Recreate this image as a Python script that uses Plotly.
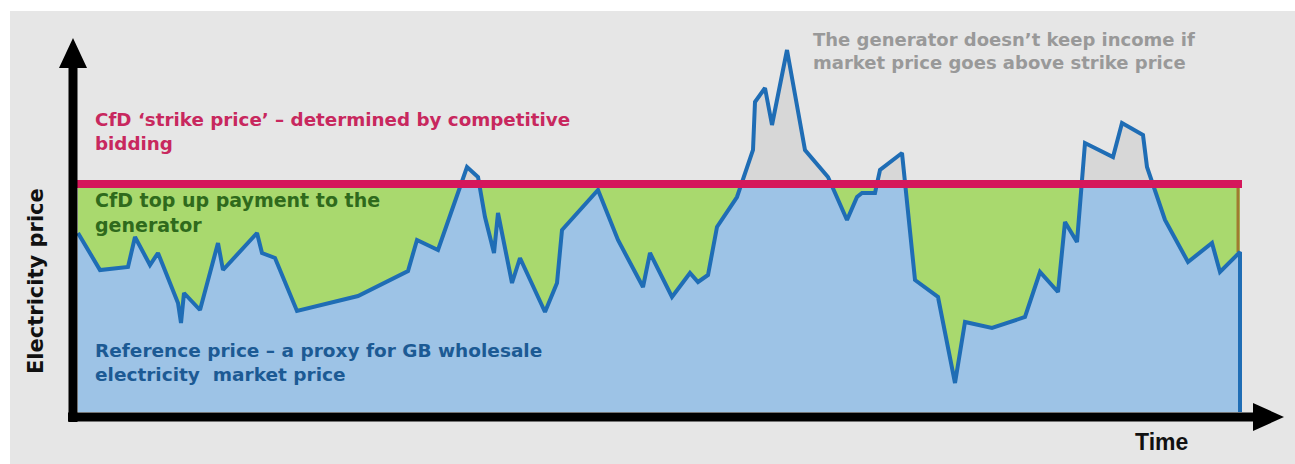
import plotly.graph_objects as go
import numpy as np

# ---- data (arbitrary units) ----
time = [0, 22, 50, 57, 72, 80, 100, 103, 106, 122, 140, 145, 179, 184, 197, 219,
        280, 330, 339, 360, 389, 400, 407, 416, 420, 434, 442, 467, 479, 484, 520,
        540, 565, 572, 594, 612, 620, 630, 639, 659, 675, 677, 687, 694, 709, 727,
        750, 769, 779, 784, 797, 802, 824, 837, 860, 877, 887, 914, 947, 962, 980,
        987, 999, 1007, 1035, 1044, 1065, 1069, 1087, 1110, 1134, 1142, 1162]
price = [179, 142, 145, 175, 147, 159, 109, 89, 119, 102, 169, 142, 179, 159, 154, 101,
         116, 141, 172, 162, 245, 235, 195, 159, 199, 129, 154, 100, 129, 182, 222,
         172, 125, 159, 115, 139, 130, 137, 185, 215, 262, 310, 324, 287, 362, 262,
         235, 192, 215, 219, 219, 242, 259, 132, 115, 29, 90, 84, 95, 140, 120,
         190, 170, 269, 255, 289, 277, 245, 192, 150, 169, 140, 160]
strike_price = 228

texts_strike = ["CfD ‘strike price’ – determined by competitive", "bidding"]
texts_topup = ["CfD top up payment to the", "generator"]
texts_ref = ["Reference price – a proxy for GB wholesale", "electricity  market price"]
texts_keep = ["The generator doesn’t keep income if", "market price goes above strike price"]
x_label = "Time"
y_label = "Electricity price"

# ---- derived: insert strike crossings so the fills split exactly ----
xs, ys = [time[0]], [price[0]]
for i in range(len(time) - 1):
    x0, y0, x1, y1 = time[i], price[i], time[i + 1], price[i + 1]
    if (y0 - strike_price) * (y1 - strike_price) < 0:
        t = (strike_price - y0) / (y1 - y0)
        xs.append(x0 + t * (x1 - x0))
        ys.append(strike_price)
    xs.append(x1)
    ys.append(y1)
xs = np.array(xs, dtype=float)
ys = np.array(ys, dtype=float)
lo = np.minimum(ys, strike_price)
hi = np.maximum(ys, strike_price)

W, H = 1295, 464
OX, OY = 78, 412  # pixel position of data origin


def P(px, py):
    return px - OX, OY - py


fig = go.Figure()
# gray area above strike
fig.add_trace(go.Scatter(x=xs, y=hi, mode="lines", line=dict(width=0),
                         fill="tozeroy", fillcolor="#d7d7d7", hoverinfo="skip"))
# green top-up band
fig.add_trace(go.Scatter(x=[time[0], time[-1]], y=[strike_price, strike_price], mode="lines",
                         line=dict(width=0), fill="tozeroy", fillcolor="#a9d96e", hoverinfo="skip"))
# blue reference area
fig.add_trace(go.Scatter(x=xs, y=lo, mode="lines", line=dict(width=0),
                         fill="tozeroy", fillcolor="#9dc3e6", hoverinfo="skip"))
# brown right edge of green band
fig.add_trace(go.Scatter(x=[time[-1] - 2, time[-1] - 2], y=[strike_price, price[-1]], mode="lines",
                         line=dict(color="#a07a30", width=3), hoverinfo="skip"))
# reference price line
fig.add_trace(go.Scatter(x=list(time) + [time[-1]], y=list(price) + [0], mode="lines",
                         line=dict(color="#1f6db5", width=4), hoverinfo="skip"))
# strike line
fig.add_trace(go.Scatter(x=[time[0] - 5, time[-1] + 2], y=[strike_price, strike_price], mode="lines",
                         line=dict(color="#d5175b", width=8), hoverinfo="skip"))

shapes = []
# gray background panel
x0, y0 = P(10, 11)
x1, y1 = P(W, H)
shapes.append(dict(type="rect", x0=x0, y0=y0, x1=x1, y1=y1, fillcolor="#e6e6e6",
                    line=dict(width=0), layer="below"))
# y axis
a, b = P(73, 422)
c, d = P(73, 62)
shapes.append(dict(type="line", x0=a, y0=b, x1=c, y1=d, line=dict(color="black", width=9)))
t1 = P(73, 38); t2 = P(59, 68); t3 = P(87, 68)
shapes.append(dict(type="path", path=f"M {t1[0]},{t1[1]} L {t2[0]},{t2[1]} L {t3[0]},{t3[1]} Z",
                   fillcolor="black", line=dict(width=0)))
# x axis
a, b = P(68, 417)
c, d = P(1258, 417)
shapes.append(dict(type="line", x0=a, y0=b, x1=c, y1=d, line=dict(color="black", width=9)))
t1 = P(1284, 417); t2 = P(1253, 403); t3 = P(1253, 431)
shapes.append(dict(type="path", path=f"M {t1[0]},{t1[1]} L {t2[0]},{t2[1]} L {t3[0]},{t3[1]} Z",
                   fillcolor="black", line=dict(width=0)))

annotations = []


def add_block(lines, px, baseline1, size, color, family="DejaVu Sans"):
    # two-line block: centre placed so first baseline sits close to baseline1
    n = len(lines)
    centre = baseline1 - 2.5 + (n - 1) * 0.65 * size - 0.33 * size
    x, y = P(px, centre)
    annotations.append(dict(x=x, y=y, text="<br>".join(lines), showarrow=False,
                            xanchor="left", yanchor="middle", align="left",
                            font=dict(family=family, size=size, color=color, weight="bold"),
                            borderpad=0))


add_block(texts_strike, 94, 128, 18.3, "#c8285e")
add_block(texts_topup, 94, 209, 19, "#2f6a1c")
add_block(texts_ref, 94, 359, 18.5, "#1c5a94")
add_block(texts_keep, 812, 48, 18, "#999999")

xt, yt = P(1134, 450 - 0.33 * 23)
annotations.append(dict(x=xt, y=yt, text=x_label, showarrow=False, xanchor="left", yanchor="middle",
                        font=dict(family="Liberation Sans", size=23, color="#111111", weight="bold"),
                        borderpad=0))

xl, yl = P(36, 281)
annotations.append(dict(x=xl, y=yl, text=y_label, showarrow=False, textangle=-90,
                        xanchor="center", yanchor="middle",
                        font=dict(family="DejaVu Sans", size=21, color="#111111", weight="bold")))

xr0, yr1 = P(0, 0)
xr1, yr0 = P(W, H)
fig.update_layout(
    width=W, height=H,
    margin=dict(l=0, r=0, t=0, b=0),
    paper_bgcolor="white", plot_bgcolor="white",
    showlegend=False,
    xaxis=dict(range=[xr0, xr1], visible=False, fixedrange=True),
    yaxis=dict(range=[yr0, yr1], visible=False, fixedrange=True),
    shapes=shapes, annotations=annotations,
)
fig.write_html("out.html")
